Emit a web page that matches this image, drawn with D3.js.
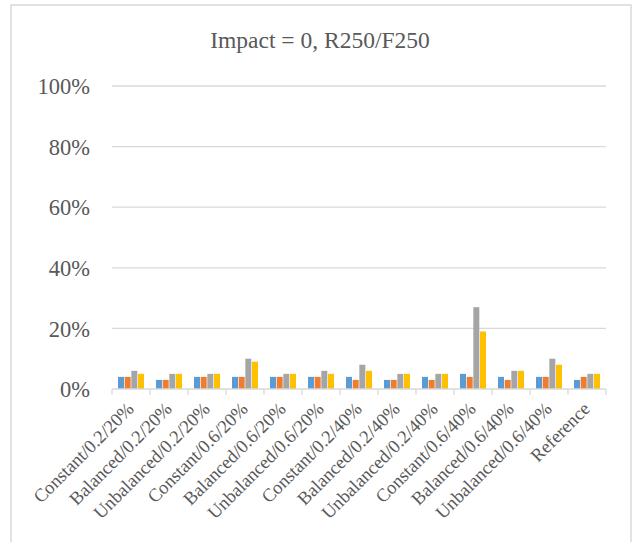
<!DOCTYPE html>
<html>
<head>
<meta charset="utf-8">
<style>
  body { margin: 0; background: #fff; }
  text { font-family: "Liberation Serif", "Times New Roman", serif; fill: #595959; }
</style>
</head>
<body>
<svg id="chart" width="636" height="542"></svg>
<script src="https://cdnjs.cloudflare.com/ajax/libs/d3/7.8.5/d3.min.js"></script>
<script>
  const categories = [
    'Constant/0.2/20%', 'Balanced/0.2/20%', 'Unbalanced/0.2/20%',
    'Constant/0.6/20%', 'Balanced/0.6/20%', 'Unbalanced/0.6/20%',
    'Constant/0.2/40%', 'Balanced/0.2/40%', 'Unbalanced/0.2/40%',
    'Constant/0.6/40%', 'Balanced/0.6/40%', 'Unbalanced/0.6/40%',
    'Reference'
  ];
  // four series, values in percent
  const seriesA = [4, 3, 4, 4, 4, 4, 4, 3, 4, 5, 4, 4, 3];
  const seriesB = [4, 3, 4, 4, 4, 4, 3, 3, 3, 4, 3, 4, 4];
  const seriesC = [6, 5, 5, 10, 5, 6, 8, 5, 5, 27, 6, 10, 5];
  const seriesD = [5, 5, 5, 9, 5, 5, 6, 5, 5, 19, 6, 8, 5];
  const yTicks = [0, 20, 40, 60, 80, 100];
  const colors = ['#5B9BD5', '#ED7D31', '#A5A5A5', '#FFC000'];

  const series = [seriesA, seriesB, seriesC, seriesD];
  const svg = d3.select('#chart');

  // outer chart border
  svg.append('rect')
    .attr('x', 11).attr('y', 5)
    .attr('width', 620).attr('height', 545)
    .attr('fill', 'none')
    .attr('stroke', '#d9d9d9')
    .attr('stroke-width', 1.5);

  svg.append('text')
    .attr('x', 320).attr('y', 48)
    .attr('text-anchor', 'middle')
    .style('font-size', '23.5px')
    .text('Impact = 0, R250/F250');

  const plotL = 112, plotR = 606, plotT = 86, plotB = 389;

  const x = d3.scaleBand().domain(categories).range([plotL, plotR]);
  const xs = d3.scaleBand().domain(d3.range(series.length))
    .range([6, x.bandwidth() - 6]).paddingInner(0.1);
  const y = d3.scaleLinear().domain([0, 100]).range([plotB, plotT]);

  // gridlines
  svg.append('g')
    .selectAll('line')
    .data(yTicks.filter(t => t > 0))
    .join('line')
    .attr('x1', plotL).attr('x2', plotR)
    .attr('y1', d => y(d)).attr('y2', d => y(d))
    .attr('stroke', '#d9d9d9')
    .attr('stroke-width', 1.3);

  // y labels
  svg.append('g')
    .selectAll('text')
    .data(yTicks)
    .join('text')
    .attr('x', 90)
    .attr('y', d => y(d))
    .attr('dy', '0.36em')
    .attr('text-anchor', 'end')
    .style('font-size', '22.5px')
    .text(d => d + '%');

  // bars
  const groups = svg.append('g')
    .selectAll('g')
    .data(categories)
    .join('g')
    .attr('transform', d => `translate(${x(d)},0)`);

  groups.selectAll('rect')
    .data((c, i) => series.map((s, k) => ({ k, v: s[i] })))
    .join('rect')
    .attr('x', d => xs(d.k))
    .attr('width', xs.bandwidth())
    .attr('y', d => y(d.v))
    .attr('height', d => y(0) - y(d.v))
    .attr('fill', d => colors[d.k]);

  // x axis line and ticks
  const ax = svg.append('g').attr('stroke', '#d9d9d9').attr('stroke-width', 1.3);
  ax.append('line')
    .attr('x1', plotL).attr('x2', plotR)
    .attr('y1', plotB).attr('y2', plotB);
  ax.selectAll('line.tick')
    .data(d3.range(categories.length + 1))
    .join('line')
    .attr('class', 'tick')
    .attr('x1', i => plotL + i * x.step()).attr('x2', i => plotL + i * x.step())
    .attr('y1', plotB).attr('y2', plotB + 6);

  // x labels
  svg.append('g')
    .selectAll('text')
    .data(categories)
    .join('text')
    .attr('text-anchor', 'end')
    .style('font-size', '18.5px')
    .attr('transform', d => `translate(${x(d) + x.bandwidth() / 2 + 4},${plotB + 21}) rotate(-45)`)
    .text(d => d);
</script>
</body>
</html>
